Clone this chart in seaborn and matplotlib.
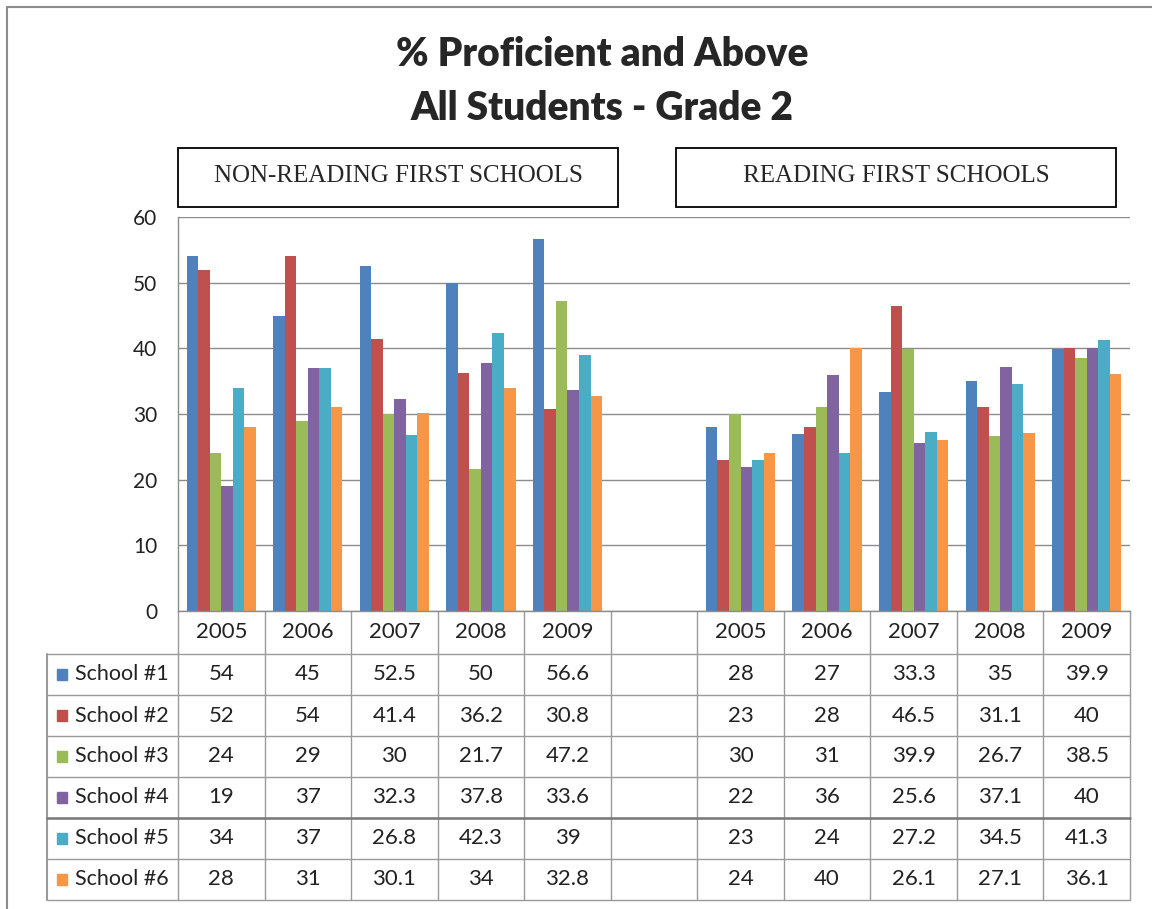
import pandas as pd
import matplotlib.pyplot as plt
import seaborn as sns
from matplotlib.patches import Rectangle
from matplotlib.lines import Line2D

years = ["2005", "2006", "2007", "2008", "2009"]
schools = ["School #1", "School #2", "School #3", "School #4", "School #5", "School #6"]
colors = ["#4F81BD", "#C0504D", "#9BBB59", "#8064A2", "#4BACC6", "#F79646"]

# one list per school, values by year
non_reading = [
    [54, 45, 52.5, 50, 56.6],
    [52, 54, 41.4, 36.2, 30.8],
    [24, 29, 30, 21.7, 47.2],
    [19, 37, 32.3, 37.8, 33.6],
    [34, 37, 26.8, 42.3, 39],
    [28, 31, 30.1, 34, 32.8],
]
reading_first = [
    [28, 27, 33.3, 35, 39.9],
    [23, 28, 46.5, 31.1, 40],
    [30, 31, 39.9, 26.7, 38.5],
    [22, 36, 25.6, 37.1, 40],
    [23, 24, 27.2, 34.5, 41.3],
    [24, 40, 26.1, 27.1, 36.1],
]

rows = []
for i, s in enumerate(schools):
    for j, y in enumerate(years):
        rows.append({"slot": "N" + y, "school": s, "value": non_reading[i][j]})
        rows.append({"slot": "R" + y, "school": s, "value": reading_first[i][j]})
df = pd.DataFrame(rows)
order = ["N" + y for y in years] + ["gap"] + ["R" + y for y in years]

sns.set_style("white")
plt.rcParams['font.family'] = ['Lato', 'DejaVu Sans']

W, H = 1152, 909
fig = plt.figure(figsize=(W / 100, H / 100), dpi=100)
ax_l, ax_r, ax_t, ax_b = 178, 1130, 217, 611
ax = fig.add_axes([ax_l / W, 1 - ax_b / H, (ax_r - ax_l) / W, (ax_b - ax_t) / H])

sns.barplot(data=df, x="slot", y="value", hue="school", order=order,
            hue_order=schools, palette=colors, saturation=1, width=0.8,
            ax=ax, legend=False, linewidth=0)

ax.set_xlim(-0.5, 10.5)
ax.set_ylim(0, 60)
ax.set_yticks(range(0, 61, 10))
ax.set_xticks([])
ax.set_xlabel("")
ax.set_ylabel("")
ax.yaxis.grid(True, color="#8c8c8c", lw=1)
ax.set_axisbelow(True)
ax.tick_params(axis="y", length=0, labelsize=15, pad=15, labelcolor="#222222")
for sp in ["top", "right"]:
    ax.spines[sp].set_visible(False)
for sp in ["left", "bottom"]:
    ax.spines[sp].set_color("#8c8c8c")
    ax.spines[sp].set_linewidth(1)

# data table under the chart
slot_px = (ax_r - ax_l) / 11
trans = ax.get_xaxis_transform()
def ay(py):
    return (ax_b - py) / (ax_b - ax_t)

row_h = 41
head_bot = 654
tab_bot = head_bot + 6 * row_h
left_x = -0.5 - (ax_l - 47) / slot_px
grid_c = "#9a9a9a"

for k in range(12):
    x = -0.5 + k
    ax.add_line(Line2D([x, x], [ay(ax_b), ay(tab_bot)], transform=trans,
                       color=grid_c, lw=1, clip_on=False))
ax.add_line(Line2D([left_x, left_x], [ay(head_bot), ay(tab_bot)], transform=trans,
                   color=grid_c, lw=1.5, clip_on=False))
for r in range(7):
    py = head_bot + r * row_h
    lw = 1.8 if r == 4 else 1
    c = "#777777" if r == 4 else grid_c
    ax.add_line(Line2D([left_x, 10.5], [ay(py), ay(py)], transform=trans,
                       color=c, lw=lw, clip_on=False))

labels = years + [""] + years
for k, lab in enumerate(labels):
    ax.text(k, ay((ax_b + head_bot) / 2), lab, transform=trans, ha="center",
            va="center", fontsize=16, color="#222222")

for i, s in enumerate(schools):
    cy = ay(head_bot + row_h * i + row_h / 2)
    sq_x = left_x + 10 / slot_px
    ax.add_patch(Rectangle((sq_x, cy - 0.013), 10 / slot_px, 0.026, transform=trans,
                           color=colors[i], clip_on=False))
    ax.text(left_x + 28 / slot_px, cy, s, transform=trans, ha="left", va="center",
            fontsize=15.5, color="#222222")
    vals = non_reading[i] + [None] + reading_first[i]
    for k, v in enumerate(vals):
        if v is None:
            continue
        ax.text(k, cy, f"{v:g}", transform=trans, ha="center", va="center",
                fontsize=16, color="#222222")

# title
fig.text(602 / W, 1 - 55 / H, "% Proficient and Above", ha="center", va="center",
         fontsize=28, fontweight="heavy")
fig.text(602 / W, 1 - 108 / H, "All Students - Grade 2", ha="center", va="center",
         fontsize=28, fontweight="heavy")

# group header boxes
for x0, x1, txt in [(178, 618, "NON-READING FIRST SCHOOLS"), (676, 1116, "READING FIRST SCHOOLS")]:
    fig.patches.append(Rectangle((x0 / W, 1 - 207 / H), (x1 - x0) / W, 59 / H,
                                 transform=fig.transFigure, fill=False,
                                 edgecolor="black", lw=1.3))
    fig.text((x0 + x1) / 2 / W, 1 - 176 / H, txt, ha="center", va="center",
             fontsize=18, family="Liberation Serif")

# outer chart frame
fig.lines.append(Line2D([7 / W, 7 / W], [0, 1 - 7 / H], transform=fig.transFigure,
                        color="#8c8c8c", lw=1.5))
fig.lines.append(Line2D([7 / W, 1], [1 - 7 / H, 1 - 7 / H], transform=fig.transFigure,
                        color="#8c8c8c", lw=1.5))

plt.savefig("out.png", dpi=100)
